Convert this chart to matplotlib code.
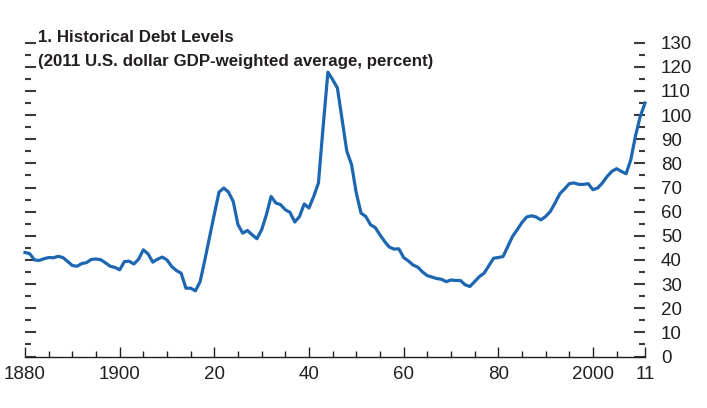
import matplotlib
matplotlib.use('Agg')
import matplotlib.pyplot as plt
from matplotlib.ticker import MultipleLocator, FixedLocator

plt.rcParams['font.family'] = ['Liberation Sans', 'DejaVu Sans']

# Debt levels, 2011 U.S. dollar GDP-weighted average (percent), annual 1880-2011
years = list(range(1880, 2012))
debt = [
    43.1, 42.6, 40.0, 39.8, 40.5, 41.0, 40.9, 41.5, 41.0, 39.4,   # 1880s
    37.7, 37.4, 38.5, 38.9, 40.2, 40.4, 40.1, 38.8, 37.4, 36.9,   # 1890s
    35.9, 39.3, 39.5, 38.3, 40.3, 44.2, 42.5, 39.1, 40.3, 41.2,   # 1900s
    40.0, 37.3, 35.6, 34.5, 28.3, 28.3, 27.2, 31.0, 40.0, 49.5,   # 1910s
    59.0, 68.1, 69.8, 68.1, 64.2, 54.6, 51.1, 52.2, 50.4, 48.8,   # 1920s
    52.5, 58.7, 66.3, 63.6, 62.9, 60.8, 59.7, 55.7, 58.0, 63.2,   # 1930s
    61.5, 66.3, 71.9, 95.4, 117.8, 114.7, 111.3, 98.1, 85.0, 79.5,  # 1940s
    67.7, 59.4, 58.0, 54.6, 53.4, 50.4, 47.6, 45.3, 44.5, 44.6,   # 1950s
    41.0, 39.6, 37.9, 37.0, 35.0, 33.5, 32.9, 32.3, 32.0, 31.0,   # 1960s
    31.7, 31.5, 31.5, 29.7, 29.0, 31.0, 33.1, 34.5, 37.6, 40.7,   # 1970s
    41.0, 41.4, 45.6, 49.7, 52.5, 55.5, 57.8, 58.3, 57.8, 56.6,   # 1980s
    58.0, 60.1, 63.6, 67.4, 69.4, 71.6, 71.9, 71.3, 71.3, 71.6,   # 1990s
    69.1, 69.8, 71.9, 74.6, 76.7, 77.8, 76.7, 75.7, 81.5, 91.5,   # 2000s
    99.5, 105.0,                                                  # 2010-11
]

x_ticks = [1880, 1900, 1920, 1940, 1960, 1980, 2000, 2011]
x_labels = ['1880', '1900', '20', '40', '60', '80', '2000', '11']
y_ticks = list(range(0, 131, 10))

W, H = 707, 408
fig = plt.figure(figsize=(W / 100, H / 100), dpi=100)
ax = fig.add_axes([25 / W, (H - 356.5) / H, 620 / W, (356.5 - 42.7) / H])

ax.plot(years, debt, color='#1c66b2', lw=2.3, solid_joinstyle='round', clip_on=False)

ax.set_xlim(1880, 2011)
ax.set_ylim(0, 130)

for s in ['top', 'left', 'right']:
    ax.spines[s].set_visible(False)
ax.spines['bottom'].set_linewidth(1.0)
ax.spines['bottom'].set_color('#231f20')

ax.xaxis.set_major_locator(FixedLocator(x_ticks))
ax.set_xticklabels(x_labels)
ax.xaxis.set_minor_locator(FixedLocator(list(range(1885, 2010, 5))))
ax.tick_params(axis='x', which='major', direction='in', length=7, width=1.0,
               color='#231f20', pad=6.5, labelsize=13.5, labelcolor='#231f20')
ax.tick_params(axis='x', which='minor', direction='in', length=4, width=1.0,
               color='#231f20')

ax.yaxis.set_major_locator(FixedLocator(y_ticks))
ax.yaxis.set_minor_locator(MultipleLocator(5))
ax.tick_params(axis='y', which='both', left=True, right=True, labelleft=False,
               labelright=True, direction='in', color='#3a3a3a')
ax.tick_params(axis='y', which='major', length=8, width=1.5, pad=11.5,
               labelsize=13.5, labelcolor='#231f20')
ax.tick_params(axis='y', which='minor', length=4, width=1.5)

fig.text(38 / W, 1 - 42.3 / H, '1. Historical Debt Levels', fontsize=12.2,
         fontweight='bold', color='#231f20', va='baseline', ha='left')
fig.text(38 / W, 1 - 66 / H, '(2011 U.S. dollar GDP-weighted average, percent)',
         fontsize=12.2, fontweight='bold', color='#231f20', va='baseline', ha='left')

fig.savefig('out.png', dpi=100)
